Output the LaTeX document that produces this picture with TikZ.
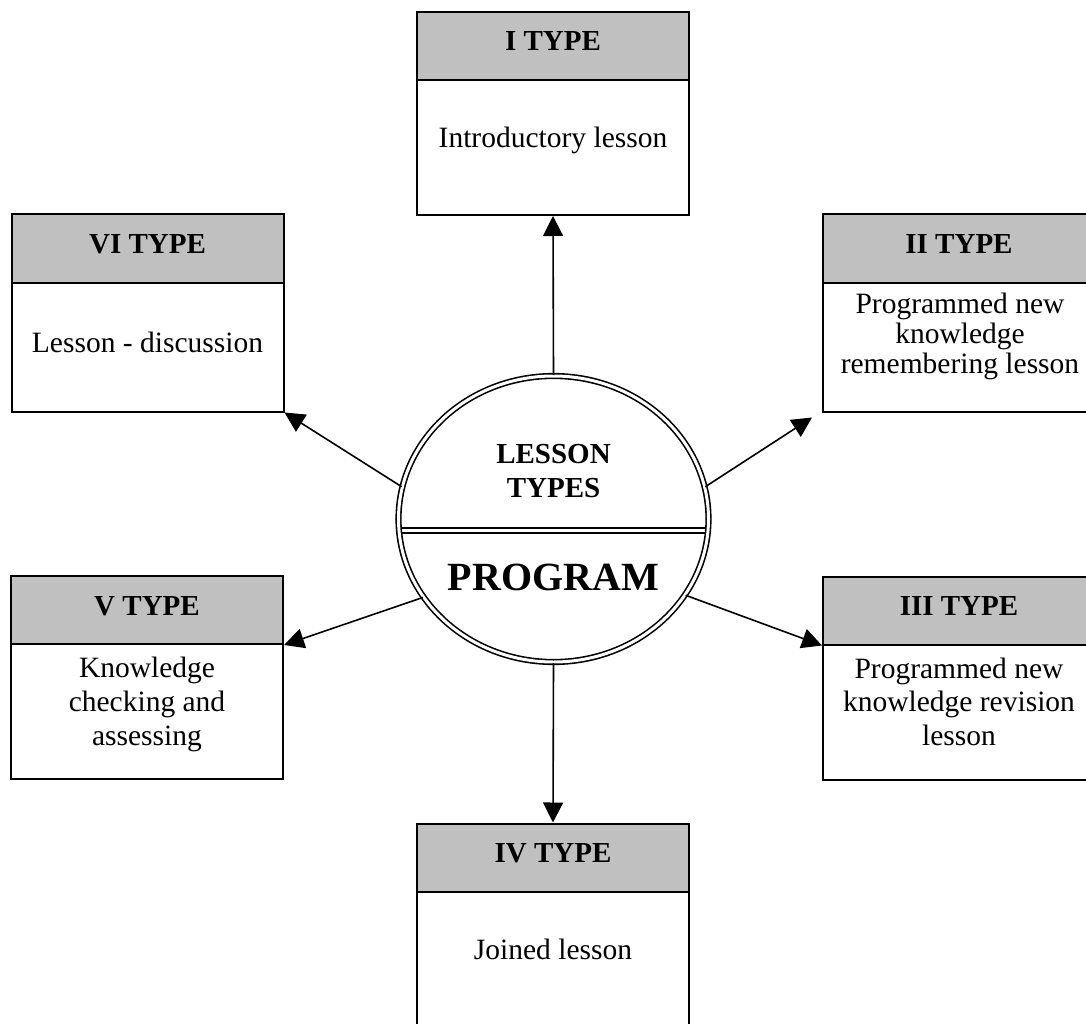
\documentclass[tikz,border=0pt]{standalone}
\usepackage{fontspec}
\setmainfont{Liberation Serif}
\usetikzlibrary{shapes.geometric,arrows.meta}
\definecolor{headgray}{RGB}{192,192,192}
\begin{document}
\begin{tikzpicture}[x=1pt,y=-1pt,
  boxbody/.style={draw, line width=2pt, minimum width=272pt, minimum height=203pt, inner sep=0pt},
  boxhead/.style={draw, line width=2pt, fill=headgray, minimum width=272pt, minimum height=68pt,
    inner sep=0pt, anchor=north, text height=19pt, text depth=9pt,
    font=\fontsize{29}{33}\selectfont\bfseries},
  bodytext/.style={align=center, inner sep=0pt},
  bfont/.style={font=\fontsize{29.5}{#1}\selectfont},
  conn/.style={line width=1.6pt, -{Triangle[length=20pt,width=20pt]}},
  ring/.style={draw, line width=1.6pt, double, double distance=3pt}]
\useasboundingbox (0,0) rectangle (1086,1024);

% boxes
\node[boxbody] (b1) at (553,113.5) {};
\node[boxhead] (h1) at (b1.north) {I TYPE};
\node[boxbody, minimum height=197pt] (b6) at (147.5,313) {};
\node[boxhead] (h6) at (b6.north) {VI TYPE};
\node[boxbody, minimum height=197pt] (b2) at (959,313) {};
\node[boxhead] (h2) at (b2.north) {II TYPE};
\node[boxbody] (b5) at (147,677.5) {};
\node[boxhead] (h5) at (b5.north) {V TYPE};
\node[boxbody] (b3) at (959,678) {};
\node[boxhead] (h3) at (b3.north) {III TYPE};
\node[boxbody] (b4) at (553,925) {};
\node[boxhead] (h4) at (b4.north) {IV TYPE};

% body texts
\node[bodytext, bfont=34, anchor=base] (t1) at (553,148) {Introductory lesson};
\node[bodytext, bfont=34, anchor=base] (t6) at (147.5,352) {Lesson - discussion};
\node[bodytext, bfont=34, anchor=base] (t4) at (553,959) {Joined lesson};
\node[bodytext, bfont=30] (t2) at (960,336) {Programmed new\\knowledge\\remembering lesson};
\node[bodytext, bfont=33.5] (t3) at (959,701.5) {Programmed new\\knowledge revision\\lesson};
\node[bodytext, bfont=34] (t5) at (147,704) {Knowledge\\checking and\\assessing};

% central circle
\draw[line width=1.5pt] (397,528) -- (710,528);
\draw[line width=1.5pt] (397,533) -- (710,533);
\node[ring, ellipse, minimum width=310pt, minimum height=286pt, inner sep=0pt] (c) at (553.5,519) {};
\node[align=center, inner sep=0pt, font=\fontsize{29}{34}\selectfont\bfseries] (lt) at (553.5,471.5) {LESSON\\TYPES};
\node[anchor=base, inner sep=0pt, font=\fontsize{40}{48}\selectfont\bfseries] (pg) at (553.5,590) {PROGRAM};

% connectors
\draw[conn] (c.north) -- (b1.south);
\draw[conn] (c.south) -- (h4.north);
\draw[conn] (c.168) -- (b6.south east);
\draw[conn] (c.12) -- ([shift={(-10,5)}]b2.south west);
\draw[conn] (c.-30) -- (h3.south west);
\draw[conn] (c.211) -- (h5.south east);
\end{tikzpicture}
\end{document}
